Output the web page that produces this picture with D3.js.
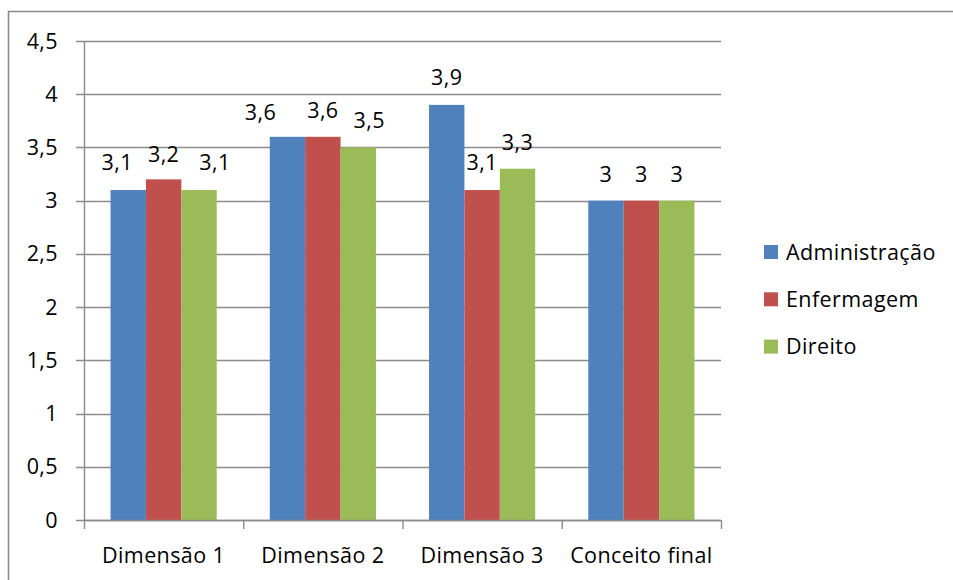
<!DOCTYPE html>
<html>
<head>
<meta charset="utf-8">
<script src="https://cdn.jsdelivr.net/npm/d3@7"></script>
<style>
  html, body { margin: 0; padding: 0; background: #fff; }
</style>
</head>
<body>
<div id="chart"></div>
<script>
const categories = ["Dimensão 1", "Dimensão 2", "Dimensão 3", "Conceito final"];
const seriesNames = ["Administração", "Enfermagem", "Direito"];
const administracao = [3.1, 3.6, 3.9, 3.0];
const enfermagem = [3.2, 3.6, 3.1, 3.0];
const direito = [3.1, 3.5, 3.3, 3.0];
const yTicks = [0, 0.5, 1, 1.5, 2, 2.5, 3, 3.5, 4, 4.5];

const colors = ["#4F81BD", "#C0504D", "#9BBB59"];
// small label nudges (Excel moved a few labels sideways to avoid overlap)
const labelNudge = [
  [[-11, -1], [-27, 2], [0, -1], [0, 0]],
  [[0, 2], [0, 0], [0, -1], [0, 0]],
  [[16, -1], [11, 0], [0, 0], [0, 0]]
];

const seriesValues = [administracao, enfermagem, direito];
const width = 953, height = 580;
const margin = { top: 41, right: 232, bottom: 60, left: 84 };
const innerWidth = width - margin.left - margin.right;
const innerHeight = height - margin.top - margin.bottom;

const locale = d3.formatLocale({ decimal: ",", thousands: ".", grouping: [3], currency: ["", ""] });
const fmt = v => locale.format("~g")(v);

const svg = d3.select("#chart").append("svg")
  .attr("width", width)
  .attr("height", height)
  .attr("font-family", "'Open Sans', sans-serif")
  .attr("font-size", 21.5)
  .attr("letter-spacing", "0.4px");

// chart border runs off the right and bottom edges
svg.append("path")
  .attr("d", `M${width},11.5 H8.5 V${height}`)
  .attr("fill", "none")
  .attr("stroke", "#8a8a8a")
  .attr("stroke-width", 1.6);

const chart = svg.append("g")
  .attr("transform", `translate(${margin.left},${margin.top})`);

const x0 = d3.scaleBand()
  .domain(categories)
  .range([0, innerWidth])
  .paddingInner(1 / 3)
  .paddingOuter(1 / 6);

const x1 = d3.scaleBand()
  .domain(seriesNames)
  .range([0, x0.bandwidth()]);

const y = d3.scaleLinear()
  .domain([0, 4.5])
  .range([innerHeight, 0]);

// gridlines
chart.append("g")
  .selectAll("line")
  .data(yTicks)
  .join("line")
  .attr("x1", -8)
  .attr("x2", innerWidth)
  .attr("y1", d => Math.round(y(d)) + 0.5)
  .attr("y2", d => Math.round(y(d)) + 0.5)
  .attr("stroke", "#8c8c8c")
  .attr("stroke-width", 1.4);

// y tick labels
chart.append("g")
  .selectAll("text")
  .data(yTicks)
  .join("text")
  .attr("x", -26)
  .attr("y", d => y(d))
  .attr("dy", "0.35em")
  .attr("text-anchor", "end")
  .text(d => fmt(d));

// bars
const groups = chart.append("g")
  .selectAll("g")
  .data(categories)
  .join("g")
  .attr("transform", d => `translate(${x0(d)},0)`);

groups.selectAll("rect")
  .data((c, i) => seriesNames.map((s, j) => ({ s, j, v: seriesValues[j][i] })))
  .join("rect")
  .attr("x", d => x1(d.s))
  .attr("y", d => y(d.v))
  .attr("width", x1.bandwidth())
  .attr("height", d => innerHeight - y(d.v))
  .attr("fill", d => colors[d.j]);

groups.selectAll(".value-label")
  .data((c, i) => seriesNames.map((s, j) => ({ s, j, i, v: seriesValues[j][i] })))
  .join("text")
  .attr("class", "value-label")
  .attr("x", d => x1(d.s) + x1.bandwidth() / 2 + labelNudge[d.j][d.i][0])
  .attr("y", d => y(d.v) - 26.5 + labelNudge[d.j][d.i][1])
  .attr("dy", "0.35em")
  .attr("text-anchor", "middle")
  .text(d => fmt(d.v));

// axes lines
chart.append("line")
  .attr("x1", 0.5).attr("x2", 0.5)
  .attr("y1", 0).attr("y2", innerHeight)
  .attr("stroke", "#8c8c8c")
  .attr("stroke-width", 1.4);

const xAxis = chart.append("g")
  .attr("transform", `translate(0,${innerHeight})`);

xAxis.append("line")
  .attr("x1", 0).attr("x2", innerWidth)
  .attr("y1", 0.5).attr("y2", 0.5)
  .attr("stroke", "#8c8c8c")
  .attr("stroke-width", 1.4);

xAxis.selectAll(".tick-mark")
  .data(d3.range(categories.length + 1))
  .join("line")
  .attr("class", "tick-mark")
  .attr("x1", i => i * x0.step() + 0.5)
  .attr("x2", i => i * x0.step() + 0.5)
  .attr("y1", 0).attr("y2", 9)
  .attr("stroke", "#8c8c8c")
  .attr("stroke-width", 1.4);

xAxis.selectAll(".cat-label")
  .data(categories)
  .join("text")
  .attr("class", "cat-label")
  .attr("x", d => x0(d) + x0.bandwidth() / 2)
  .attr("y", 35)
  .attr("dy", "0.35em")
  .attr("text-anchor", "middle")
  .text(d => d);

// legend
const legend = svg.append("g")
  .attr("transform", "translate(764,245)");

const items = legend.selectAll("g")
  .data(seriesNames)
  .join("g")
  .attr("transform", (d, i) => `translate(0,${i * 47.3})`);

items.append("rect")
  .attr("width", 14)
  .attr("height", 14)
  .attr("fill", (d, i) => colors[i]);

items.append("text")
  .attr("x", 22)
  .attr("y", 7)
  .attr("dy", "0.35em")
  .text(d => d);
</script>
</body>
</html>
